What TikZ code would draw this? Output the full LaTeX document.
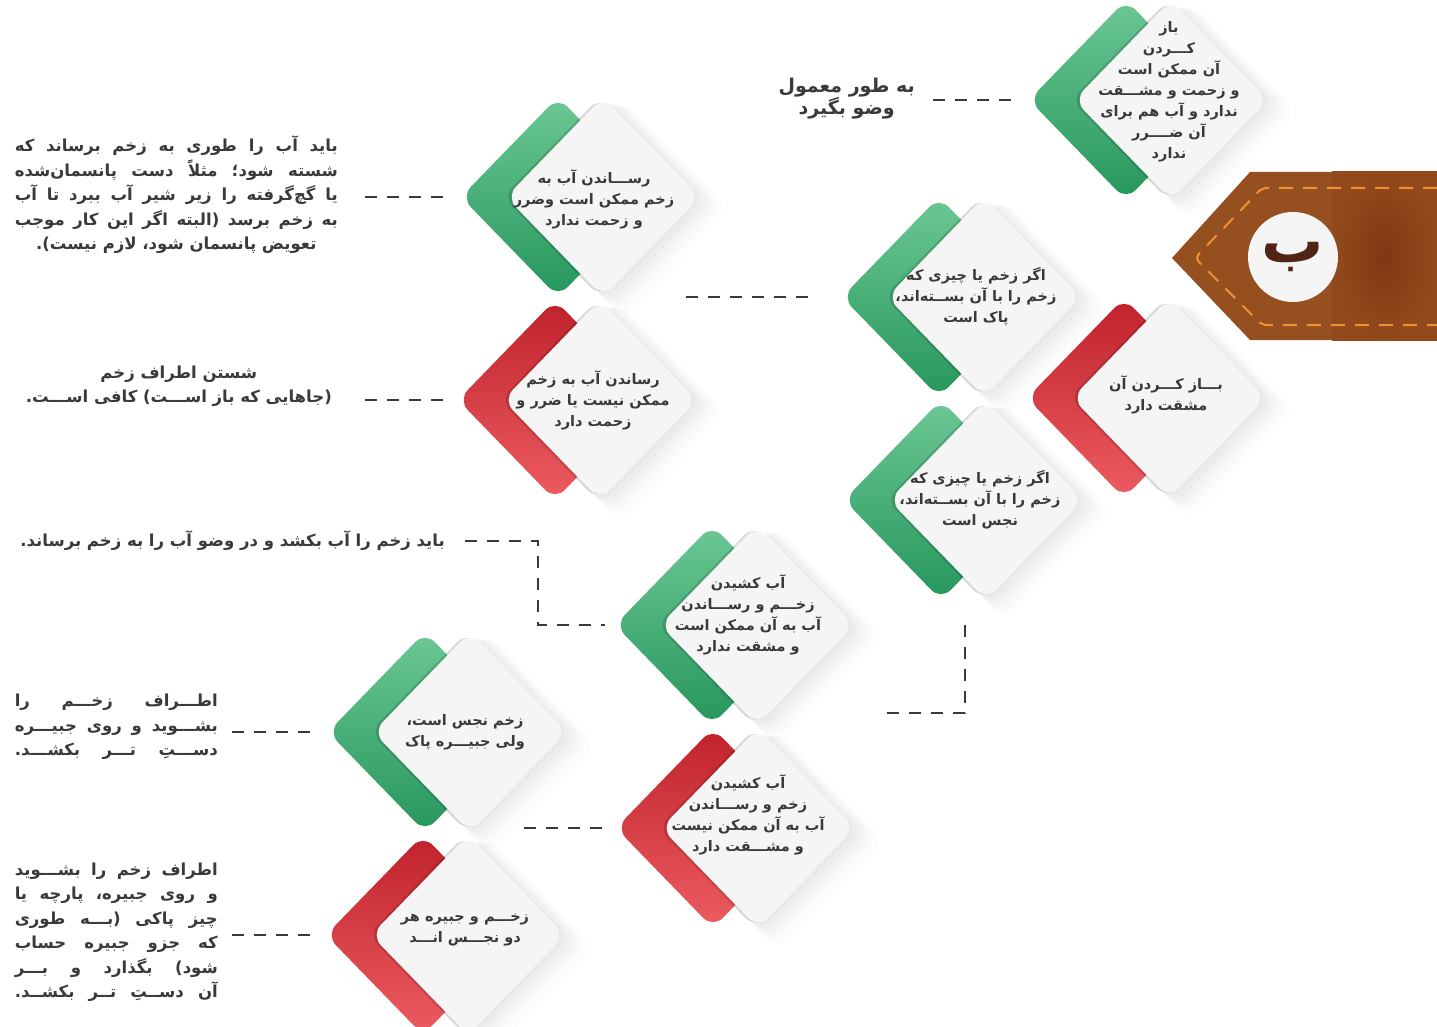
\documentclass[tikz,border=0pt]{standalone}
\usepackage{fontspec}
\newfontfamily\fafont[Script=Arabic]{DejaVu Sans}
\TeXXeTstate=1
\usetikzlibrary{shapes.geometric,shadows,positioning}
\usepackage{xcolor}
\definecolor{okTop}{RGB}{108,200,148}
\definecolor{okBot}{RGB}{38,150,92}
\definecolor{noTop}{RGB}{192,34,44}
\definecolor{noBot}{RGB}{236,92,96}
\definecolor{cardwhite}{RGB}{245,245,245}
\definecolor{textgrey}{RGB}{58,58,58}
\definecolor{tabbrown}{RGB}{150,80,32}
\definecolor{tabdark}{RGB}{128,56,20}
\definecolor{tabedge}{RGB}{146,74,28}
\definecolor{tabdash}{RGB}{242,142,52}
\definecolor{letterbrown}{RGB}{82,36,22}

\begin{document}
\begin{tikzpicture}[x=1pt, y=-1pt,
    card/.style={
        diamond,
        rounded corners=14pt,
        minimum width=194pt,
        minimum height=200pt,
        inner sep=0pt,
        outer sep=0pt,
        fill=cardwhite,
        drop shadow={shadow xshift=18pt, shadow yshift=-11pt, opacity=0.02, shadow scale=1.10},
        drop shadow={shadow xshift=15pt, shadow yshift=-9pt, opacity=0.025, shadow scale=1.08},
        drop shadow={shadow xshift=12pt, shadow yshift=-7pt, opacity=0.03, shadow scale=1.06},
        drop shadow={shadow xshift=9pt, shadow yshift=-5pt, opacity=0.035, shadow scale=1.04},
        drop shadow={shadow xshift=6pt, shadow yshift=-4pt, opacity=0.04, shadow scale=1.02},
        drop shadow={shadow xshift=3pt, shadow yshift=-2pt, opacity=0.045, shadow scale=1.00},
        preaction={top color=#1Top, bottom color=#1Bot, transform canvas={xshift=-45pt}},
        preaction={fill=black, opacity=0.15, transform canvas={xshift=-3pt}}
    },
    cardtext/.style={
        font=\fafont\bfseries\fontsize{14.5}{21}\selectfont,
        text=textgrey,
        align=center,
        inner sep=0pt
    },
    note/.style={
        font=\fafont\bfseries\fontsize{16.5}{24.5}\selectfont,
        text=textgrey,
        align=center,
        inner sep=0pt,
        anchor=east
    },
    link/.style={draw=textgrey, line width=2.5pt, dash pattern=on 12pt off 10pt}
]
    \useasboundingbox (0,0) rectangle (1437,1027);

    % tab
    \fill[tabbrown] (1172,258) -- (1250,172) -- (1437,172) -- (1437,340) -- (1250,340) -- cycle;
    \shade[inner color=tabdark, outer color=tabedge] (1332,172) rectangle (1437,340);
    \draw[tabdash, line width=2pt, dash pattern=on 14pt off 10pt, rounded corners=5pt]
        (1437,188) -- (1262,188) -- (1195,258) -- (1262,325) -- (1437,325);
    \node (tab_b) [circle, fill=cardwhite, minimum size=90pt, inner sep=0pt, shift={(1293,257)},
        font=\fafont\bfseries\fontsize{62}{62}\selectfont, text=letterbrown]
    {
        ب
    };

    % cards
    \node (can_open) [card=ok, shift={(1171,100)},
        label={[cardtext, xshift=-2pt, yshift=8pt]center:{\beginR باز\endR\\\beginR کـــردن\endR\\\beginR آن ممکن است\endR\\\beginR و زحمت و مشـــقت\endR\\\beginR ندارد و آب هم برای\endR\\\beginR آن ضــــرر\endR\\\beginR ندارد\endR}}] {};
    \node (dressing_clean) [card=ok, shift={(984,297)},
        label={[cardtext, xshift=-8pt]center:{\beginR اگر زخم یا چیزی که\endR\\\beginR زخم را با آن بســته‌اند،\endR\\\beginR پاک است\endR}}] {};
    \node (open_hard) [card=no, shift={(1169,398)},
        label={[cardtext, xshift=-3pt, yshift=3pt]center:{\beginR بـــاز کـــردن آن\endR\\\beginR مشقت دارد\endR}}] {};
    \node (dressing_najis) [card=ok, shift={(986,500)},
        label={[cardtext, xshift=-6pt]center:{\beginR اگر زخم یا چیزی که\endR\\\beginR زخم را با آن بســته‌اند،\endR\\\beginR نجس است\endR}}] {};
    \node (water_ok) [card=ok, shift={(603,197)},
        label={[cardtext, xshift=-9pt, yshift=-2pt]center:{\beginR رســـاندن آب به\endR\\\beginR زخم ممکن است وضرر\endR\\\beginR و زحمت ندارد\endR}}] {};
    \node (water_harmful) [card=no, shift={(600,400)},
        label={[cardtext, xshift=-7pt]center:{\beginR رساندن آب به زخم\endR\\\beginR ممکن نیست یا ضرر و\endR\\\beginR زحمت دارد\endR}}] {};
    \node (wash_ok) [card=ok, shift={(757,625)},
        label={[cardtext, xshift=-9pt, yshift=10pt]center:{\beginR آب کشیدن\endR\\\beginR زخـــم و رســـاندن\endR\\\beginR آب به آن ممکن است\endR\\\beginR و مشقت ندارد\endR}}] {};
    \node (wash_hard) [card=no, shift={(758,828)},
        label={[cardtext, xshift=-10pt, yshift=13pt]center:{\beginR آب کشیدن\endR\\\beginR زخم و رســـاندن\endR\\\beginR آب به آن ممکن نیست\endR\\\beginR و مشـــقت دارد\endR}}] {};
    \node (wound_najis) [card=ok, shift={(470,732)},
        label={[cardtext, xshift=-5pt]center:{\beginR زخم نجس است،\endR\\\beginR ولی جبیـــره پاک\endR}}] {};
    \node (both_najis) [card=no, shift={(468,935)},
        label={[cardtext, xshift=-3pt, yshift=5pt]center:{\beginR زخـــم و جبیره هر\endR\\\beginR دو نجـــس انـــد\endR}}] {};

    % notes
    \node (normal_wudu) [note, font=\fafont\bfseries\fontsize{19}{22}\selectfont, shift={(915,99)}]
    {
        \beginR به طور معمول\endR\\\beginR وضو بگیرد\endR
    };
    \node (pour_water) [note, shift={(338,195)}]
    {
        \makebox[323pt][s]{\beginR باید آب را طوری به زخم برساند که\endR}\\
        \makebox[323pt][s]{\beginR شسته شود؛ مثلاً دست پانسمان‌شده\endR}\\
        \makebox[323pt][s]{\beginR یا گچ‌گرفته را زیر شیر آب ببرد تا آب\endR}\\
        \makebox[323pt][s]{\beginR به زخم برسد (البته اگر این کار موجب\endR}\\
        \beginR تعویض پانسمان شود، لازم نیست).\endR
    };
    \node (wash_around) [note, shift={(332,386)}]
    {
        \beginR شستن اطراف زخم\endR\\\beginR (جاهایی که باز اســـت) کافی اســـت.\endR
    };
    \node (wash_and_pour) [note, shift={(445,541)}]
    {
        \beginR باید زخم را آب بکشد و در وضو آب را به زخم برساند.\endR
    };
    \node (wipe_clean) [note, shift={(218,727)}]
    {
        \makebox[203pt][s]{\beginR اطـــراف زخـــم را\endR}\\
        \makebox[203pt][s]{\beginR بشـــوید و روی جبیـــره\endR}\\
        \makebox[203pt][s]{\beginR دســـتِ تـــر بکشـــد.\endR}
    };
    \node (wipe_cover) [note, shift={(218,932)}]
    {
        \makebox[203pt][s]{\beginR اطراف زخم را بشـــوید\endR}\\
        \makebox[203pt][s]{\beginR و روی جبیره، پارچه یا\endR}\\
        \makebox[203pt][s]{\beginR چیز پاکی (بـــه طوری\endR}\\
        \makebox[203pt][s]{\beginR که جزو جبیره حساب\endR}\\
        \makebox[203pt][s]{\beginR شود) بگذارد و بـــر\endR}\\
        \makebox[203pt][s]{\beginR آن دســتِ تــر بکشــد.\endR}
    };

    % dashed links
    \draw[link, shorten <=18pt, shorten >=59pt] (normal_wudu.east |- can_open) -- (can_open.west);
    \draw[link, shorten <=27pt, shorten >=56pt] (pour_water.east |- water_ok) -- (water_ok.west);
    \draw[link, shorten <=33pt, shorten >=53pt] (wash_around.east |- water_harmful) -- (water_harmful.west);
    \draw[link, shorten <=79pt, shorten >=77pt] (dressing_clean.west) -- (water_ok.south |- dressing_clean.west);
    \draw[link] (wash_and_pour.east) ++(20,0) -| ([xshift=-122pt]wash_ok.west) -- ([xshift=-55pt]wash_ok.west);
    \draw[link] ([xshift=-21pt, yshift=-25pt]dressing_najis.south) |- ([xshift=125pt, yshift=12pt]wash_ok.south);
    \draw[link, shorten <=59pt, shorten >=50pt] (wash_hard.west) -- (wound_najis.south |- wash_hard.west);
    \draw[link, shorten <=14pt, shorten >=55pt] (wipe_clean.east |- wound_najis) -- (wound_najis.west);
    \draw[link, shorten <=14pt, shorten >=53pt] (wipe_cover.east |- both_najis) -- (both_najis.west);
\end{tikzpicture}
\end{document}
